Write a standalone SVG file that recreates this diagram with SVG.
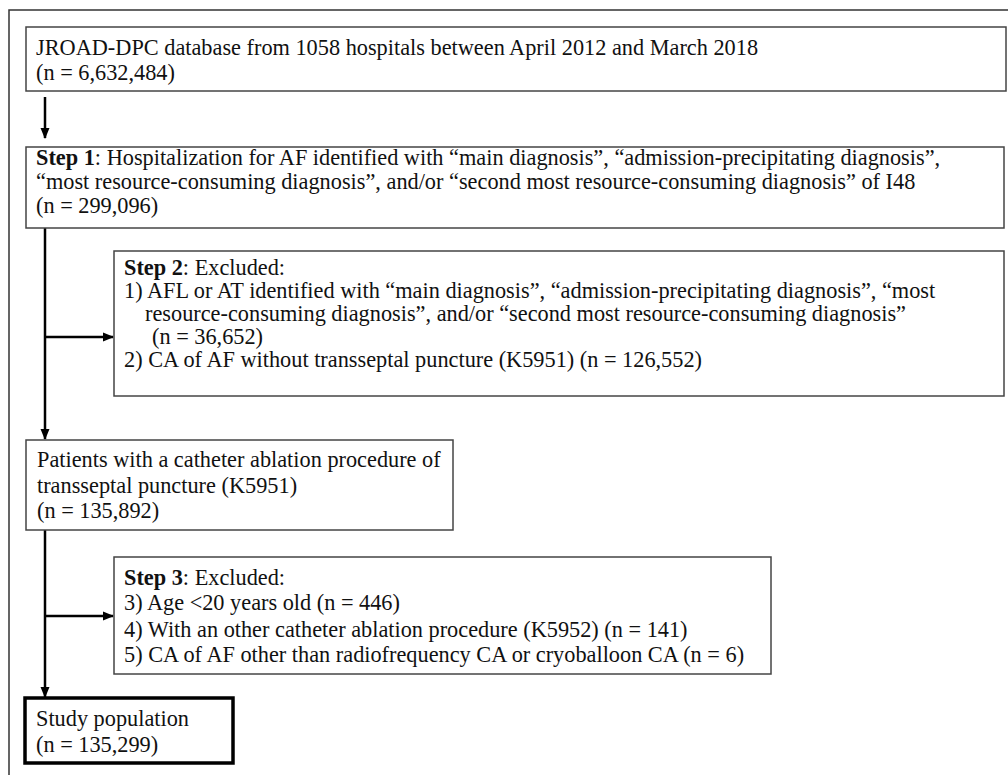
<svg xmlns="http://www.w3.org/2000/svg" width="1008" height="775" viewBox="0 0 1008 775">
<style>
  text { font-family: "Liberation Serif", "Times New Roman", serif; font-size: 22.3px; fill: #111; }
  .b { font-weight: bold; }
  .box { fill: #fff; stroke: #444; stroke-width: 1.5; }
  .thick { fill: #fff; stroke: #000; stroke-width: 3.5; }
  .conn { stroke: #000; stroke-width: 2.5; fill: none; }
</style>
<defs>
  <marker id="ah" markerWidth="11" markerHeight="11" refX="10" refY="5.5" orient="auto" markerUnits="userSpaceOnUse">
    <path d="M0,1 L11,5.5 L0,10 Z" fill="#000"/>
  </marker>
</defs>
<rect x="0" y="0" width="1008" height="775" fill="#fff"/>
<rect id="frame" x="9" y="10" width="1010" height="800" fill="none" stroke="#333" stroke-width="1.5"/>

<g id="connectors">
  <line class="conn" x1="45" y1="97" x2="45" y2="138" marker-end="url(#ah)"/>
  <line class="conn" x1="45" y1="228" x2="45" y2="439" marker-end="url(#ah)"/>
  <line class="conn" x1="45" y1="337" x2="113" y2="337" marker-end="url(#ah)"/>
  <line class="conn" x1="45" y1="530" x2="45" y2="697" marker-end="url(#ah)"/>
  <line class="conn" x1="45" y1="616" x2="113" y2="616" marker-end="url(#ah)"/>
</g>

<g id="node-jroad">
  <rect class="box" x="26" y="27" width="980" height="64"/>
  <text x="36" y="55">JROAD-DPC database from 1058 hospitals between April 2012 and March 2018</text>
  <text x="36" y="80">(n = 6,632,484)</text>
</g>

<g id="node-step1">
  <rect class="box" x="26" y="147" width="978" height="81"/>
  <text x="36" y="165"><tspan class="b">Step 1</tspan>: Hospitalization for AF identified with “main diagnosis”, “admission-precipitating diagnosis”,</text>
  <text x="36" y="189">“most resource-consuming diagnosis”, and/or “second most resource-consuming diagnosis” of I48</text>
  <text x="36" y="213">(n = 299,096)</text>
</g>

<g id="node-step2">
  <rect class="box" x="114" y="251" width="890" height="145"/>
  <text x="124" y="275"><tspan class="b">Step 2</tspan>: Excluded:</text>
  <text x="124" y="298">1) AFL or AT identified with “main diagnosis”, “admission-precipitating diagnosis”, “most</text>
  <text x="145" y="321">resource-consuming diagnosis”, and/or “second most resource-consuming diagnosis”</text>
  <text x="152" y="344">(n = 36,652)</text>
  <text x="124" y="367">2) CA of AF without transseptal puncture (K5951) (n = 126,552)</text>
</g>

<g id="node-patients">
  <rect class="box" x="26" y="440" width="427" height="90"/>
  <text x="37" y="467">Patients with a catheter ablation procedure of</text>
  <text x="37" y="493">transseptal puncture (K5951)</text>
  <text x="37" y="518">(n = 135,892)</text>
</g>

<g id="node-step3">
  <rect class="box" x="114" y="557" width="657" height="117"/>
  <text x="124" y="585"><tspan class="b">Step 3</tspan>: Excluded:</text>
  <text x="124" y="610">3) Age &lt;20 years old (n = 446)</text>
  <text x="124" y="637">4) With an other catheter ablation procedure (K5952) (n = 141)</text>
  <text x="124" y="662">5) CA of AF other than radiofrequency CA or cryoballoon CA (n = 6)</text>
</g>

<g id="node-study">
  <rect class="thick" x="25" y="698" width="208" height="65"/>
  <text x="36" y="726">Study population</text>
  <text x="36" y="752">(n = 135,299)</text>
</g>
</svg>
